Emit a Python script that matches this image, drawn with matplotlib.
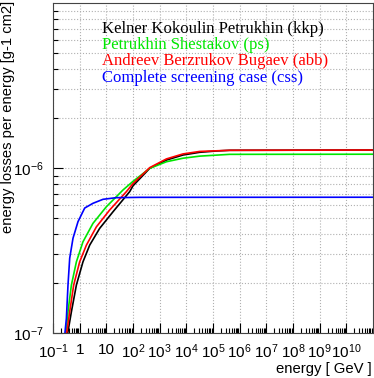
import numpy as np
import matplotlib.pyplot as plt
from matplotlib.ticker import FixedLocator, FixedFormatter, NullFormatter, LogLocator

# energies in GeV, losses in g-1 cm2
e_kkp = [0.347, 0.49, 0.754, 1.33, 2.38, 5.64, 17.8, 75.1, 100, 423, 1787, 7480, 31600, 1.34e5, 4.2e5, 1e11]
l_kkp = [0.973e-7, 1.346e-7, 1.954e-7, 2.70e-7, 3.41e-7, 4.31e-7, 5.43e-7, 7.19e-7, 7.8e-7, 9.95e-7,
         1.117e-6, 1.199e-6, 1.245e-6, 1.268e-6, 1.28e-6, 1.285e-6]

e_ps = [0.299, 0.365, 0.49, 0.754, 1.33, 3.16, 10, 42.2, 100, 423, 1787, 7480, 31600, 4.2e5, 1e11]
l_ps = [0.973e-7, 1.346e-7, 1.954e-7, 2.70e-7, 3.57e-7, 4.62e-7, 5.82e-7, 7.36e-7, 8.3e-7,
        9.95e-7, 1.091e-6, 1.146e-6, 1.18e-6, 1.21e-6, 1.212e-6]

e_abb = [0.318, 0.423, 0.597, 1.0, 1.79, 4.24, 13.4, 56.5, 100, 423, 1787, 7480, 31600, 4.2e5, 1e11]
l_abb = [0.973e-7, 1.346e-7, 1.954e-7, 2.70e-7, 3.41e-7, 4.40e-7, 5.57e-7, 7.19e-7, 8.05e-7, 1.005e-6,
         1.135e-6, 1.217e-6, 1.26e-6, 1.28e-6, 1.285e-6]

e_css = [0.275, 0.318, 0.365, 0.423, 0.562, 0.866, 1.545, 3.16, 7.5, 23.8, 178, 1e11]
l_css = [0.973e-7, 1.227e-7, 1.954e-7, 2.84e-7, 3.75e-7, 4.73e-7, 5.72e-7, 6.11e-7, 6.46e-7, 6.61e-7,
         6.64e-7, 6.65e-7]

labels = ['Kelner Kokoulin Petrukhin (kkp)', 'Petrukhin Shestakov (ps)',
          'Andreev Berzrukov Bugaev (abb)', 'Complete screening case (css)']
colors = ['black', '#00e600', 'red', 'blue']

x_ticks = [1e-1, 1, 10, 1e2, 1e3, 1e4, 1e5, 1e6, 1e7, 1e8, 1e9, 1e10]
x_ticklabels = ['$10^{-1}$', '1', '10', '$10^{2}$', '$10^{3}$', '$10^{4}$', '$10^{5}$',
                '$10^{6}$', '$10^{7}$', '$10^{8}$', '$10^{9}$', '$10^{10}$']
y_ticks = [1e-7, 1e-6]
y_ticklabels = ['$10^{-7}$', '$10^{-6}$']

plt.rcParams['font.family'] = ['Liberation Sans', 'DejaVu Sans']
plt.rcParams['mathtext.fontset'] = 'custom'
plt.rcParams['mathtext.rm'] = 'Liberation Sans'
plt.rcParams['mathtext.it'] = 'Liberation Sans'

fig = plt.figure(figsize=(3.74, 3.78), dpi=100)
ax = fig.add_axes([53/374, 45/378, 320/374, 330/378])

for e, l, c in zip([e_kkp, e_ps, e_abb, e_css], [l_kkp, l_ps, l_abb, l_css], colors):
    ax.plot(e, l, color=c, lw=1.2)

ax.set_xscale('log')
ax.set_yscale('log')
ax.set_xlim(1e-1, 1e11)
ax.set_ylim(1e-7, 1e-5)

# ticks and labels, ROOT-like
ax.xaxis.set_major_locator(FixedLocator(x_ticks))
ax.xaxis.set_major_formatter(FixedFormatter(x_ticklabels))
ax.xaxis.set_minor_locator(LogLocator(base=10, subs=np.arange(2, 10), numticks=30))
ax.xaxis.set_minor_formatter(NullFormatter())
ax.yaxis.set_major_locator(FixedLocator(y_ticks))
ax.yaxis.set_major_formatter(FixedFormatter(y_ticklabels))
ax.yaxis.set_minor_locator(LogLocator(base=10, subs=np.arange(2, 10), numticks=30))
ax.yaxis.set_minor_formatter(NullFormatter())
ax.tick_params(which='major', direction='in', length=7, width=0.8, labelsize=11)
ax.tick_params(which='minor', direction='in', length=3.5, width=0.8)
ax.tick_params(axis='x', which='major', pad=7)
ax.tick_params(axis='y', which='major', pad=7)

# grid: vertical at decades, horizontal at all ticks
ax.grid(True, axis='x', which='major', ls=':', color='#b0b0b0', lw=0.8)
ax.grid(True, axis='y', which='both', ls=':', color='#b0b0b0', lw=0.8)

for sp in ax.spines.values():
    sp.set_color('#444444')
    sp.set_linewidth(0.8)

# legend as coloured text lines
for i, (t, c) in enumerate(zip(labels, colors)):
    fig.text(102/374, 1 - (33 + 16.2*i)/378, t, color=c, fontsize=12,
             family=['Liberation Serif', 'DejaVu Serif'], va='baseline', ha='left')

fig.text(8/374, 1 - 1/378, 'energy losses per energy [g-1 cm2]', rotation=90,
         ha='center', va='top', fontsize=10.6)
fig.text(372/374, 1 - 369/378, 'energy [ GeV ]', ha='right', va='center', fontsize=10.7)

fig.savefig('out.png', dpi=100)
